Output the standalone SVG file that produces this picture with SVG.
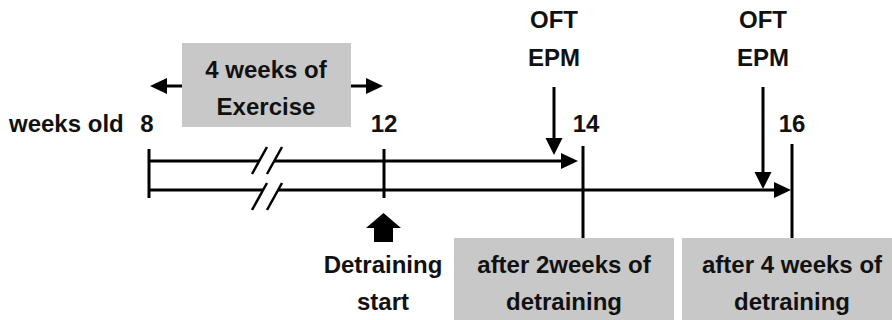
<svg xmlns="http://www.w3.org/2000/svg" width="892" height="320" viewBox="0 0 892 320">
  <defs>
    <style>
      .t { font-family: "Liberation Sans", Arial, sans-serif; font-weight: bold; font-size: 24px; fill: #111; text-anchor: middle; }
      .ln { stroke: #000; stroke-width: 3; fill: none; }
      .sl { stroke: #000; stroke-width: 2.5; fill: none; }
      .box { fill: #c8c8c8; }
      .ah { fill: #000; }
    </style>
  </defs>
  <rect width="892" height="320" fill="#fff"/>

  <g id="exercise">
    <rect class="box" x="182" y="43" width="169" height="84"/>
    <text class="t" x="266" y="78">4 weeks of</text>
    <text class="t" x="266" y="115">Exercise</text>
  </g>

  <g id="labels">
    <text class="t" x="9" y="132" style="text-anchor:start">weeks old</text>
    <text class="t" x="147" y="132">8</text>
    <text class="t" x="384" y="132">12</text>
    <text class="t" x="586" y="132">14</text>
    <text class="t" x="792" y="132">16</text>
  </g>

  <g id="test1">
    <text class="t" x="554" y="28">OFT</text>
    <text class="t" x="554" y="66">EPM</text>
  </g>
  <g id="test2">
    <text class="t" x="763" y="28">OFT</text>
    <text class="t" x="763" y="66">EPM</text>
  </g>

  <g id="detraining-start">
    <text class="t" x="383" y="273">Detraining</text>
    <text class="t" x="383" y="310">start</text>
  </g>

  <g id="after2">
    <rect class="box" x="454" y="238" width="220" height="82"/>
    <text class="t" x="564" y="273">after 2weeks of</text>
    <text class="t" x="564" y="310">detraining</text>
  </g>
  <g id="after4">
    <rect class="box" x="682" y="238" width="210" height="82"/>
    <text class="t" x="792" y="273">after 4 weeks of</text>
    <text class="t" x="792" y="310">detraining</text>
  </g>

  <g id="connectors">
    <line class="ln" x1="166" y1="86" x2="182" y2="86"/>
    <polygon class="ah" points="150,86 167,78 167,94"/>
    <line class="ln" x1="351" y1="86" x2="367" y2="86"/>
    <polygon class="ah" points="383,86 366,78 366,94"/>

    <line class="ln" x1="149" y1="149" x2="149" y2="198"/>
    <line class="ln" x1="384" y1="149" x2="384" y2="198"/>
    <line class="ln" x1="583" y1="146" x2="583" y2="238"/>
    <line class="ln" x1="792" y1="144" x2="792" y2="238"/>

    <line class="ln" x1="149" y1="161" x2="259" y2="161"/>
    <line class="ln" x1="274" y1="161" x2="562" y2="161"/>
    <polygon class="ah" points="578,161 561,153 561,169"/>
    <line class="sl" x1="252" y1="174" x2="267" y2="147"/>
    <line class="sl" x1="267" y1="174" x2="282" y2="147"/>

    <line class="ln" x1="149" y1="190" x2="263" y2="190"/>
    <line class="ln" x1="278" y1="190" x2="775" y2="190"/>
    <polygon class="ah" points="791,190 774,182 774,198"/>
    <line class="sl" x1="252" y1="210" x2="267" y2="183"/>
    <line class="sl" x1="267" y1="210" x2="282" y2="183"/>

    <line class="ln" x1="554" y1="87" x2="554" y2="140"/>
    <polygon class="ah" points="554,155 545.5,138 562.5,138"/>
    <line class="ln" x1="763" y1="87" x2="763" y2="174"/>
    <polygon class="ah" points="763,189 754.5,172 771.5,172"/>

    <polygon class="ah" points="383.5,213 366,228 374,228 374,242 393,242 393,228 401,228"/>
  </g>
</svg>
